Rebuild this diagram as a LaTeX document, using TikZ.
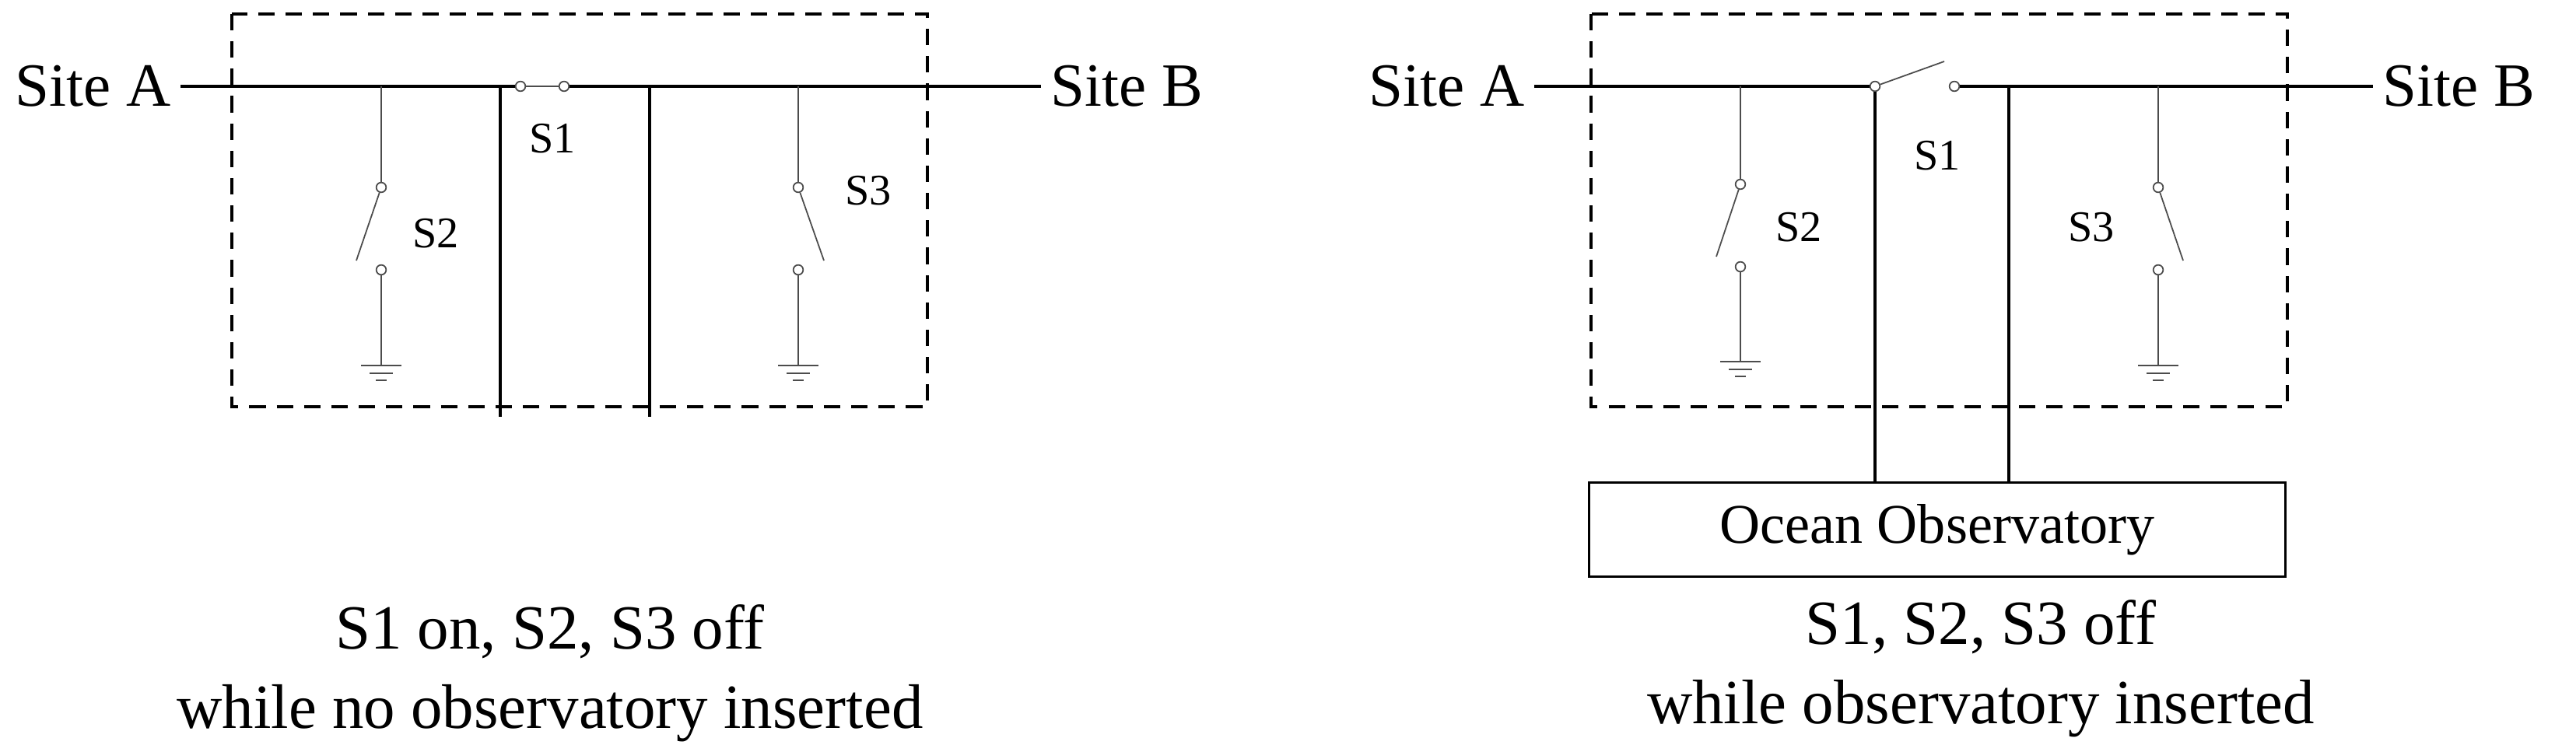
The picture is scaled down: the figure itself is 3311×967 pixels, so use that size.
\documentclass[tikz,border=0pt]{standalone}
\usepackage{fontspec}
\setmainfont{Liberation Serif}
\begin{document}
\begin{tikzpicture}[x=0.01cm,y=-0.01cm,
  bus/.style={line width=1pt},
  thin/.style={line width=.5pt,black!70},
  contact/.style={circle,draw=black!70,line width=.5pt,inner sep=0pt,minimum size=3.6pt,fill=white},
  frame/.style={line width=1.1pt,dash pattern=on 6pt off 4pt},
  site/.style={font=\fontsize{22.5}{26}\selectfont},
  sw/.style={font=\fontsize{16}{19}\selectfont},
  caption/.style={font=\fontsize{23}{29}\selectfont,align=center}]
\useasboundingbox (0,0) rectangle (3311,967);
\def\gnd#1#2{%
  \draw[thin] (#1-26,#2) -- (#1+26,#2);
  \draw[thin] (#1-15,#2+10) -- (#1+15,#2+10);
  \draw[thin] (#1-7,#2+19) -- (#1+7,#2+19);}

% left: no observatory
\node[site,anchor=east] (siteAl) at (232,111) {Site A};
\node[site,anchor=west] (siteBl) at (1338,111) {Site B};
\draw[frame] (298,18) rectangle (1192,523);
\node[contact] (s1al) at (669,111) {};
\node[contact] (s1bl) at (725,111) {};
\draw[bus] (siteAl.east) -- (s1al);
\draw[bus] (s1bl) -- (siteBl.west);
\draw[thin] (s1al) -- (s1bl);
\coordinate (tapAl) at (643,111);
\coordinate (tapBl) at (835,111);
\draw[bus] (tapAl) -- (643,536);
\draw[bus] (tapBl) -- (835,536);
\node[sw] at (710,178) {S1};
\node[contact] (s2al) at (490,241) {};
\node[contact] (s2bl) at (490,347) {};
\draw[thin] (490,111) -- (s2al) -- (458,335);
\draw[thin] (s2bl) -- (490,470);
\gnd{490}{470}
\node[sw] at (560,300) {S2};
\node[contact] (s3al) at (1026,241) {};
\node[contact] (s3bl) at (1026,347) {};
\draw[thin] (1026,111) -- (s3al) -- (1059,335);
\draw[thin] (s3bl) -- (1026,470);
\gnd{1026}{470}
\node[sw] at (1116,245) {S3};
\node[caption] at (707,866) {S1 on, S2, S3 off\\while no observatory inserted};

% right: observatory inserted
\node[site,anchor=east] (siteAr) at (1972,111) {Site A};
\node[site,anchor=west] (siteBr) at (3050,111) {Site B};
\draw[frame] (2045,18) rectangle (2940,523);
\node[contact] (s1ar) at (2410,111) {};
\node[contact] (s1br) at (2512,111) {};
\coordinate (blade) at (2499,79);
\draw[bus] (siteAr.east) -- (s1ar);
\draw[bus] (s1br) -- (siteBr.west);
\draw[thin] (s1ar) -- (blade);
\node[draw,line width=.9pt,minimum width=8.95cm,minimum height=1.21cm,font=\fontsize{20.5}{24}\selectfont] (obs) at (2490,681) {Ocean Observatory};
\coordinate (tapBr) at (2582,111);
\draw[bus] (s1ar.south) -- (s1ar.south |- obs.north);
\draw[bus] (tapBr) -- (tapBr |- obs.north);
\node[sw] at (2490,200) {S1};
\node[contact] (s2ar) at (2237,237) {};
\node[contact] (s2br) at (2237,343) {};
\draw[thin] (2237,111) -- (s2ar) -- (2206,330);
\draw[thin] (s2br) -- (2237,465);
\gnd{2237}{465}
\node[sw] at (2312,292) {S2};
\node[contact] (s3ar) at (2774,241) {};
\node[contact] (s3br) at (2774,347) {};
\draw[thin] (2774,111) -- (s3ar) -- (2806,335);
\draw[thin] (s3br) -- (2774,470);
\gnd{2774}{470}
\node[sw] at (2688,292) {S3};
\node[caption] at (2546,860) {S1, S2, S3 off\\while observatory inserted};
\end{tikzpicture}
\end{document}
